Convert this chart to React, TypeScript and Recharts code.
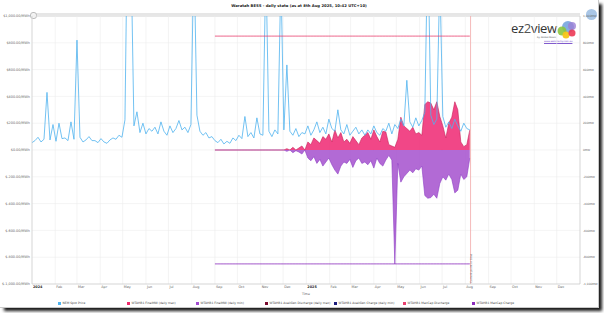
import React from 'react';
import { ComposedChart, Line, Area, XAxis, YAxis, CartesianGrid, ReferenceLine, Legend } from 'recharts';

// one point every 4 days, starting 1 Jan 2024
const STEP_DAYS = 4;
// battery series start at grid index 61 (1 Sep 2024)
const BATTERY_START = 61;
const NOW_DAY = 585; // 8 Aug 2025

// NEM spot price ($/MWh), NSW, every 4 days
const spotPrice = [
  55, 70, 95, 60, 80, 430, 75, 190, 65, 200, 85,
  90, 70, 210, 80, 820, 95, 60, 75, 100, 70,
  70, 55, 85, 60, 50, 75, 90, 80, 110, 95,
  225, 2000, 1500, 180, 285, 130, 200, 120, 160, 140,
  170, 120, 210, 140, 110, 180, 130, 160, 220, 150,
  170, 130, 190, 1500, 260, 140, 110, 130, 90, 100,
  70, 55, 80, 45, 65, 50, 90, 70, 110, 85,
  250, 100, 130, 90, 240, 120, 110, 1400, 140, 100,
  150, 120, 1300, 150, 635, 140, 110, 160, 100, 130,
  120, 180, 110, 150, 210, 130, 170, 120, 230, 160,
  140, 300, 150, 120, 190, 110, 140, 170, 120, 150,
  110, 150, 120, 180, 130, 110, 160, 140, 200, 120,
  190, 160, 230, 180, 520, 210, 170, 240, 180, 220,
  280, 1600, 260, 190, 230, 1300, 250, 170, 210, 160,
  230, 180, 140, 200, 160, 150,
];

// WTAHB1 FinalMW daily max (MW)
const finalMax = [
  0, 0, 0, 0, 0, 0, 0, 0, 0, 0, 0, 0, 0, 0, 0, 0, 0, 0, 0, 0, 0, 0, 0, 0,
  10, 0, 20, 0, 15, 30, 0,
  60, 40, 90, 70, 50, 100, 80, 120, 60,
  150, 90, 130, 60, 80, 50, 100, 70, 40, 90,
  110, 130, 80, 150, 100, 60, 140, 135, 40, 30,
  20, 80, 245, 180, 160, 140, 170, 120, 130, 110,
  340, 360, 350, 300, 360, 250, 180, 90, 200, 245,
  360, 300, 60, 25, 40, 150,
];

// WTAHB1 FinalMW daily min (MW)
const finalMin = [
  0, 0, 0, 0, 0, 0, 0, 0, 0, 0, 0, 0, 0, 0, 0, 0, 0, 0, 0, 0, 0, 0, 0, 0,
  -10, 0, -20, -5, -15, -30, 0,
  -60, -80, -50, -100, -70, -120, -90, -60, -110,
  -150, -180, -120, -90, -100, -70, -130, -80, -60, -100,
  -90, -110, -80, -135, -60, -100, -120, -75, -40, -75,
  -850, -100, -240, -200, -175, -150, -170, -140, -150, -120,
  -340, -360, -355, -330, -360, -250, -200, -225, -180, -220,
  -320, -300, -180, -220, -200, -60,
];

const maxCapDischarge = 850;
const maxCapCharge = -850;

const monthTicks = [0, 31, 60, 91, 121, 152, 182, 213, 244, 274, 305, 335, 366, 397, 425, 456, 486, 517, 547, 578, 609, 639, 670, 700];
const monthLabels = ['2024', 'Feb', 'Mar', 'Apr', 'May', 'Jun', 'Jul', 'Aug', 'Sep', 'Oct', 'Nov', 'Dec', '2025', 'Feb', 'Mar', 'Apr', 'May', 'Jun', 'Jul', 'Aug', 'Sep', 'Oct', 'Nov', 'Dec'];
const valueTicks = [-1000, -900, -800, -700, -600, -500, -400, -300, -200, -100, 0, 100, 200, 300, 400, 500, 600, 700, 800, 900, 1000];

const seriesNames = [
  'NEM Spot Price',
  'WTAHB1 FinalMW (daily max)',
  'WTAHB1 FinalMW (daily min)',
  'WTAHB1 AvailGen Discharge (daily max)',
  'WTAHB1 AvailGen Charge (daily min)',
  'WTAHB1 MaxCap Discharge',
  'WTAHB1 MaxCap Charge',
];
const seriesColors = ['#4fb3ef', '#ee2a6c', '#a24bd0', '#7a0a2e', '#1c1c7c', '#e8406f', '#8a2cbc'];

const data = spotPrice.map((price, i) => {
  const b = i - BATTERY_START;
  const on = b >= 0 && b < finalMax.length;
  return {
    day: i * STEP_DAYS,
    price,
    finalMax: on ? finalMax[b] : null,
    finalMin: on ? finalMin[b] : null,
    availDis: null,
    availChg: null,
    capDis: on ? maxCapDischarge : null,
    capChg: on ? maxCapCharge : null,
  };
});

const FONT = '"DejaVu Sans", Verdana, sans-serif';

const fmtPrice = (v: number) => {
  const s = Math.abs(v).toLocaleString('en-US', { minimumFractionDigits: 2, maximumFractionDigits: 2 });
  return v < 0 ? `$-${s}/MWh` : `$${s}/MWh`;
};
const fmtMW = (v: number) => `${v.toLocaleString('en-US')}MW`;

const MonthTick = ({ x, y, payload }: any) => {
  const label = monthLabels[monthTicks.indexOf(payload.value)];
  const isYear = label === '2024' || label === '2025';
  return (
    <text x={x + 1} y={y + 4.4} fontSize={3.4} fontFamily={FONT} fill={isYear ? '#222' : '#666'}
      fontWeight={isYear ? 'bold' : 'normal'} textAnchor="start">
      {label}
    </text>
  );
};

const LeftTick = ({ x, y, payload }: any) => (
  <text x={x} y={y + 1.2} fontSize={3.4} fontFamily={FONT} fill="#666" textAnchor="end">
    {fmtPrice(payload.value)}
  </text>
);

const RightTick = ({ x, y, payload }: any) => (
  <text x={x} y={y + 1.2} fontSize={2.9} fontFamily={FONT} fill="#666" textAnchor="start">
    {fmtMW(payload.value)}
  </text>
);

const NowLabel = ({ viewBox }: any) => {
  const x = viewBox.x + 1;
  const y = viewBox.y + viewBox.height - 1;
  return (
    <text x={x} y={y} transform={`rotate(-90 ${x} ${y})`} fontSize={2.8} fontFamily={FONT} fill="#555">
      Current point in time
    </text>
  );
};

const TimeLabel = ({ viewBox }: any) => (
  <text x={viewBox.x + viewBox.width / 2} y={viewBox.y + viewBox.height + 0.5} textAnchor="middle"
    fontSize={3.2} fontFamily={FONT} fill="#555">
    Time
  </text>
);

const renderLegend = () => (
  <div style={{ display: 'flex', justifyContent: 'center', fontFamily: FONT }}>
    {seriesNames.map((name, i) => (
      <div key={name} style={{ width: 69, display: 'flex', alignItems: 'center', fontSize: 3, color: '#444', whiteSpace: 'nowrap' }}>
        <span style={{ width: 3, height: 3, background: seriesColors[i], marginRight: 2, flex: 'none' }} />
        {name}
      </div>
    ))}
  </div>
);

export default function App() {
  return (
    <div style={{ position: 'absolute', left: 0, top: 0, width: 598, height: 307, background: '#fff',
      boxShadow: '0 0 0 1px #c9c9c9, 4px 4px 3px #1a1a1a', fontFamily: FONT }}>
      <div style={{ position: 'absolute', top: 2.5, left: 0, width: 598, textAlign: 'center', fontSize: 3.8,
        fontWeight: 'bold', color: '#222' }}>
        Waratah BESS - daily state (as at 8th Aug 2025, 10:42 UTC+10)
      </div>
      {/* navigator strip */}
      <div style={{ position: 'absolute', top: 12.5, left: 32, width: 548, height: 4, background: '#e6e6e6' }} />
      <div style={{ position: 'absolute', top: 12, left: 30, width: 5, height: 5, borderRadius: 3, background: '#f4f4f4', border: '0.5px solid #bbb' }} />
      <div style={{ position: 'absolute', top: 9, left: 586, width: 11, height: 11, borderRadius: 6, background: '#a9c6e6' }} />
      {/* ez2view logo */}
      <div style={{ position: 'absolute', top: 19, left: 511, fontFamily: '"Open Sans", sans-serif', fontSize: 13, color: '#333', letterSpacing: -0.3 }}>
        ez<span style={{ color: '#555' }}>2</span>view
      </div>
      <div style={{ position: 'absolute', top: 36, left: 537, fontSize: 2.4, color: '#555' }}>by Global-Roam</div>
      <div style={{ position: 'absolute', top: 40, left: 544, fontSize: 2.4, color: '#6a3cc8', textDecoration: 'underline' }}>www.wattclarity.com.au</div>
      <svg style={{ position: 'absolute', top: 20, left: 556 }} width={22} height={20}>
        <circle cx={12} cy={7} r={6} fill="#6fa0dc" opacity={0.85} />
        <circle cx={16} cy={6} r={4} fill="#9b7fd6" opacity={0.8} />
        <circle cx={6} cy={11} r={4.5} fill="#8cc63f" opacity={0.9} />
        <circle cx={10} cy={15} r={3.5} fill="#f5c518" opacity={0.95} />
        <circle cx={16} cy={13} r={3.5} fill="#ec3a55" opacity={0.9} />
      </svg>
      <ComposedChart width={598} height={307} data={data} margin={{ top: 16, right: 0, bottom: 13, left: 0 }}>
        <CartesianGrid yAxisId="price" stroke="#ececec" strokeWidth={0.6} />
        <XAxis dataKey="day" type="number" domain={[0, 731]} ticks={monthTicks} interval={0} height={10}
          tick={<MonthTick />} tickLine={false} tickSize={0} tickMargin={0}
          axisLine={{ stroke: '#c8c8c8', strokeWidth: 0.6 }} label={<TimeLabel />} />
        <YAxis yAxisId="price" domain={[-1000, 1000]} ticks={valueTicks} allowDataOverflow width={32}
          tick={<LeftTick />} tickLine={false} tickSize={0} tickMargin={2} axisLine={{ stroke: '#c8c8c8', strokeWidth: 0.6 }} />
        <YAxis yAxisId="mw" orientation="right" domain={[-1000, 1000]} ticks={valueTicks} allowDataOverflow width={18}
          tick={<RightTick />} tickLine={false} tickSize={0} tickMargin={3} axisLine={{ stroke: '#c8c8c8', strokeWidth: 0.6 }} />
        <Area yAxisId="mw" dataKey="finalMin" name={seriesNames[2]} type="linear" baseValue={0}
          stroke="#8d3cc4" strokeWidth={0.6} fill="#aa5ad0" fillOpacity={0.9} isAnimationActive={false} dot={false} />
        <Area yAxisId="mw" dataKey="finalMax" name={seriesNames[1]} type="linear" baseValue={0}
          stroke="#c81e58" strokeWidth={0.6} fill="#f0337a" fillOpacity={0.9} isAnimationActive={false} dot={false} />
        <Line yAxisId="price" dataKey="price" name={seriesNames[0]} type="linear" stroke={seriesColors[0]}
          strokeWidth={0.8} dot={false} isAnimationActive={false} />
        <Line yAxisId="mw" dataKey="availDis" name={seriesNames[3]} stroke={seriesColors[3]} strokeWidth={0.8}
          dot={false} isAnimationActive={false} />
        <Line yAxisId="mw" dataKey="availChg" name={seriesNames[4]} stroke={seriesColors[4]} strokeWidth={0.8}
          dot={false} isAnimationActive={false} />
        <Line yAxisId="mw" dataKey="capDis" name={seriesNames[5]} stroke={seriesColors[5]} strokeWidth={0.8}
          dot={false} isAnimationActive={false} />
        <Line yAxisId="mw" dataKey="capChg" name={seriesNames[6]} stroke={seriesColors[6]} strokeWidth={0.8}
          dot={false} isAnimationActive={false} />
        <ReferenceLine yAxisId="price" x={NOW_DAY} stroke="#f3aaaa" strokeWidth={0.8} label={<NowLabel />} />
        <Legend layout="horizontal" verticalAlign="middle" align="center" content={renderLegend}
          wrapperStyle={{ top: 301, left: 0, width: 598 }} />
      </ComposedChart>
    </div>
  );
}
